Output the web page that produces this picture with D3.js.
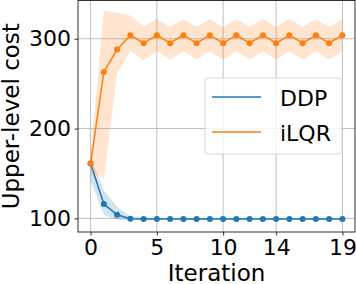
<!DOCTYPE html>
<html>
<head>
<meta charset="utf-8">
<script src="https://cdn.jsdelivr.net/npm/d3@7"></script>
<style>
  body { margin: 0; background: #fff; }
  svg { display: block; font-family: "DejaVu Sans", sans-serif; }
</style>
</head>
<body>
<svg id="chart" width="356" height="284"></svg>
<script>
// --- Daten ---
const iterations = d3.range(0, 20);
const xTicks = [0, 5, 10, 14, 19];
const yTicks = [100, 200, 300];

const ddpMean  = [161, 116, 104, 99.5, 99.4, 99.4, 99.4, 99.4, 99.4, 99.4, 99.4, 99.4, 99.4, 99.4, 99.4, 99.4, 99.4, 99.4, 99.4, 99.4];
const ddpUpper = [168, 131, 113, 102, 100.6, 100.5, 100.5, 100.5, 100.5, 100.5, 100.5, 100.5, 100.5, 100.5, 100.5, 100.5, 100.5, 100.5, 100.5, 100.5];
const ddpLower = [142, 104, 98.5, 97.5, 98.3, 98.4, 98.4, 98.4, 98.4, 98.4, 98.4, 98.4, 98.4, 98.4, 98.4, 98.4, 98.4, 98.4, 98.4, 98.4];

const ilqrMean  = [161, 263, 288, 304, 295, 304, 295, 304, 295, 304, 295, 304, 295, 304, 295, 304, 295, 304, 295, 304];
const ilqrUpper = [170, 331, 329, 326, 314, 322, 313, 322, 313, 322, 313, 322, 313, 322, 313, 322, 313, 322, 313, 322];
const ilqrLower = [150, 145, 262, 287, 276, 286, 277, 286, 277, 286, 277, 286, 277, 286, 277, 286, 277, 286, 277, 286];

const seriesNames = ['DDP', 'iLQR'];
const colors = ['#1f77b4', '#ff7f0e'];

// --- Layout ---
const svg = d3.select('#chart');
const plotLeft = 78, plotRight = 355, plotTop = 0.5, plotBottom = 232;

const x = d3.scaleLinear().domain([-0.95, 19.95]).range([plotLeft, plotRight]);
const y = d3.scaleLinear().domain([84.8, 342.6]).range([plotBottom, plotTop]);

// Gitter
const grid = svg.append('g').attr('stroke', '#b0b0b0').attr('stroke-width', 0.8);
xTicks.forEach(t => grid.append('line')
  .attr('x1', x(t)).attr('x2', x(t)).attr('y1', plotTop).attr('y2', plotBottom));
yTicks.forEach(t => grid.append('line')
  .attr('x1', plotLeft).attr('x2', plotRight).attr('y1', y(t)).attr('y2', y(t)));

// Serien zeichnen
const series = [
  { mean: ddpMean, upper: ddpUpper, lower: ddpLower },
  { mean: ilqrMean, upper: ilqrUpper, lower: ilqrLower }
];

const area = d3.area().x(d => x(d.i)).y0(d => y(d.lo)).y1(d => y(d.hi));
const line = d3.line().x(d => x(d.i)).y(d => y(d.v));

series.forEach((s, k) => {
  const pts = iterations.map((i, j) => ({ i: i, v: s.mean[j], lo: s.lower[j], hi: s.upper[j] }));
  svg.append('path').datum(pts)
    .attr('d', area)
    .attr('fill', colors[k]).attr('fill-opacity', 0.2);
  svg.append('path').datum(pts)
    .attr('d', line)
    .attr('fill', 'none').attr('stroke', colors[k]).attr('stroke-width', 1.5);
  svg.append('g').selectAll('circle').data(pts).join('circle')
    .attr('cx', d => x(d.i)).attr('cy', d => y(d.v)).attr('r', 3)
    .attr('fill', colors[k]);
});

// Achsen
const xAxis = svg.append('g').attr('transform', `translate(0,${plotBottom})`)
  .call(d3.axisBottom(x).tickValues(xTicks).tickSize(3.5).tickPadding(3.5).tickSizeOuter(0));
const yAxis = svg.append('g').attr('transform', `translate(${plotLeft},0)`)
  .call(d3.axisLeft(y).tickValues(yTicks).tickSize(3.5).tickPadding(3.5).tickSizeOuter(0));
[xAxis, yAxis].forEach(a => {
  a.select('.domain').remove();
  a.selectAll('line').attr('stroke', '#000').attr('stroke-width', 0.8);
  a.selectAll('text').attr('font-size', 22).attr('font-family', 'DejaVu Sans').attr('fill', '#000');
});

// Rahmen
svg.append('rect')
  .attr('x', plotLeft).attr('y', plotTop).attr('width', plotRight - plotLeft).attr('height', plotBottom - plotTop)
  .attr('fill', 'none').attr('stroke', '#000').attr('stroke-width', 0.8);

// Achsenbeschriftungen
svg.append('text')
  .attr('x', (plotLeft + plotRight) / 2).attr('y', 281)
  .attr('text-anchor', 'middle').attr('font-size', 23)
  .text('Iteration');
svg.append('text')
  .attr('transform', `translate(19,${(plotTop + plotBottom) / 2}) rotate(-90)`)
  .attr('text-anchor', 'middle').attr('font-size', 23)
  .text('Upper-level cost');

// Legende
const legend = svg.append('g');
legend.append('rect')
  .attr('x', 205).attr('y', 78).attr('width', 137).attr('height', 76).attr('rx', 3)
  .attr('fill', '#fff').attr('fill-opacity', 0.8)
  .attr('stroke', '#cccccc').attr('stroke-width', 0.8);
seriesNames.forEach((name, k) => {
  const ly = 97 + k * 35;
  legend.append('line')
    .attr('x1', 212).attr('x2', 261).attr('y1', ly).attr('y2', ly)
    .attr('stroke', colors[k]).attr('stroke-width', 1.5);
  legend.append('text')
    .attr('x', 280).attr('y', ly + 9)
    .attr('font-size', 22)
    .text(name);
});
</script>
</body>
</html>
